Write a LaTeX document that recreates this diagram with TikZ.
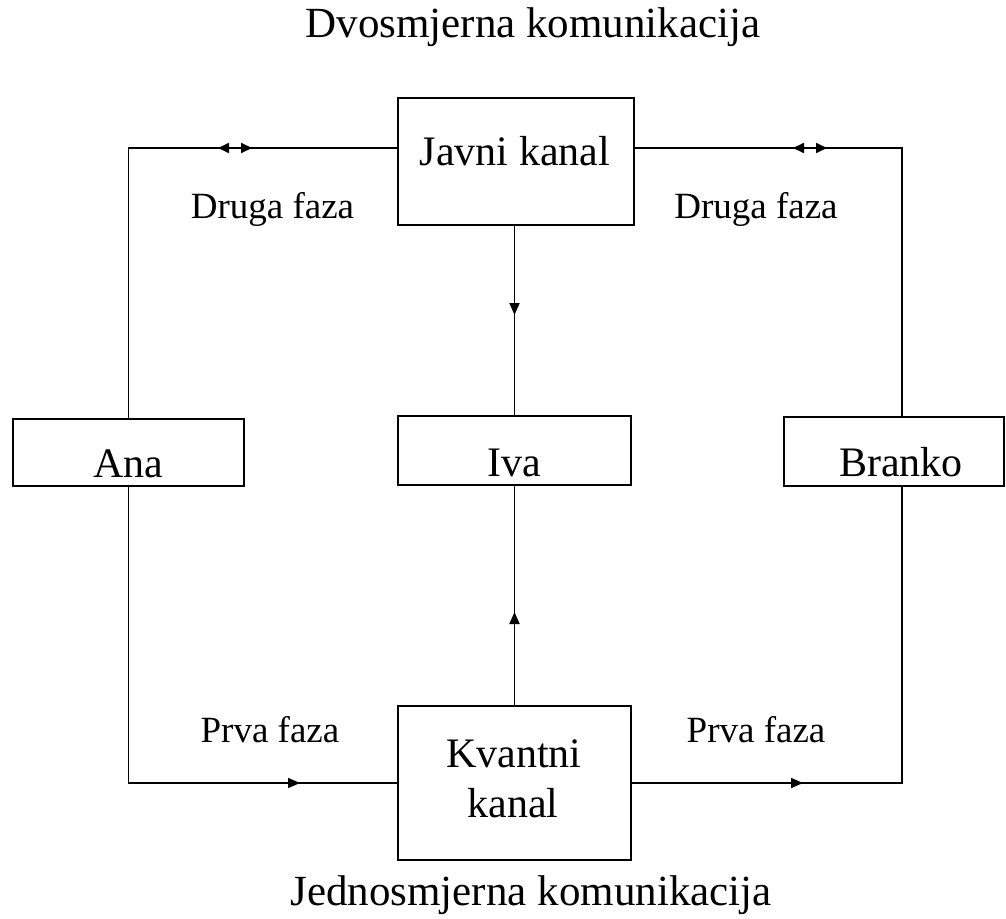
\documentclass[tikz,border=0pt]{standalone}
\usepackage{fontspec}
\setmainfont{Liberation Serif}
\usetikzlibrary{arrows.meta}
\begin{document}
\begin{tikzpicture}[x=1pt,y=-1pt,line width=1.8pt,
  box/.style={draw,line width=1.8pt,inner sep=0pt,outer sep=0pt},
  big/.style={font=\fontsize{42}{50}\selectfont,anchor=base,inner sep=0pt},
  title/.style={font=\fontsize{43}{50}\selectfont,anchor=base,inner sep=0pt},
  phase/.style={font=\fontsize{37}{44}\selectfont,anchor=base,inner sep=0pt},
  arr/.style={-{Triangle[length=12pt,width=10pt]}},
  darr/.style={{Triangle[length=11pt,width=10pt]}-{Triangle[length=11pt,width=10pt]}}]
\useasboundingbox (0,0) rectangle (1006,918);
% boxes
\node[box,minimum width=236pt,minimum height=127pt] (javni) at (516,161.5) {};
\node[box,minimum width=231pt,minimum height=67pt] (ana) at (128.5,452.5) {};
\node[box,minimum width=233pt,minimum height=69pt] (iva) at (514.5,450.5) {};
\node[box,minimum width=220pt,minimum height=69pt] (branko) at (894,451.5) {};
\node[box,minimum width=233pt,minimum height=154pt] (kvant) at (514.5,783) {};
% box texts
\node[big] (tjavni) at (515,165) {Javni kanal};
\node[big] (tana) at (128,477) {Ana};
\node[big] (tiva) at (514,476) {Iva};
\node[big] (tbranko) at (901,476) {Branko};
\node[big] (tkv1) at (514,767) {Kvantni};
\node[big] (tkv2) at (513,817) {kanal};
% titles
\node[title] (dvo) at (533,37) {Dvosmjerna komunikacija};
\node[title] (jed) at (531,905) {Jednosmjerna komunikacija};
% phase labels
\node[phase] (dl) at (272.5,218) {Druga faza};
\node[phase] (dr) at (756,218) {Druga faza};
\node[phase] (pl) at (270,742) {Prva faza};
\node[phase] (pr) at (756,742) {Prva faza};
% connectors
\draw (ana.north) |- ([yshift=13.5pt]javni.west);
\draw ([yshift=13.5pt]javni.east) -| ([xshift=8pt]branko.north);
\draw (iva.north |- javni.south) -- (iva.north);
\draw (kvant.north) -- (iva.south);
\draw (ana.south) |- (kvant.west);
\draw (kvant.east) -| ([xshift=8pt]branko.south);
% arrow marks
\draw[darr] (218,148) -- (252,148);
\draw[darr] (793,148) -- (827,148);
\draw[arr] (514.5,300) -- (514.5,315);
\draw[arr] (514.5,630) -- (514.5,612);
\draw[arr] (280,783) -- (300,783);
\draw[arr] (783,783) -- (803,783);
\end{tikzpicture}
\end{document}
